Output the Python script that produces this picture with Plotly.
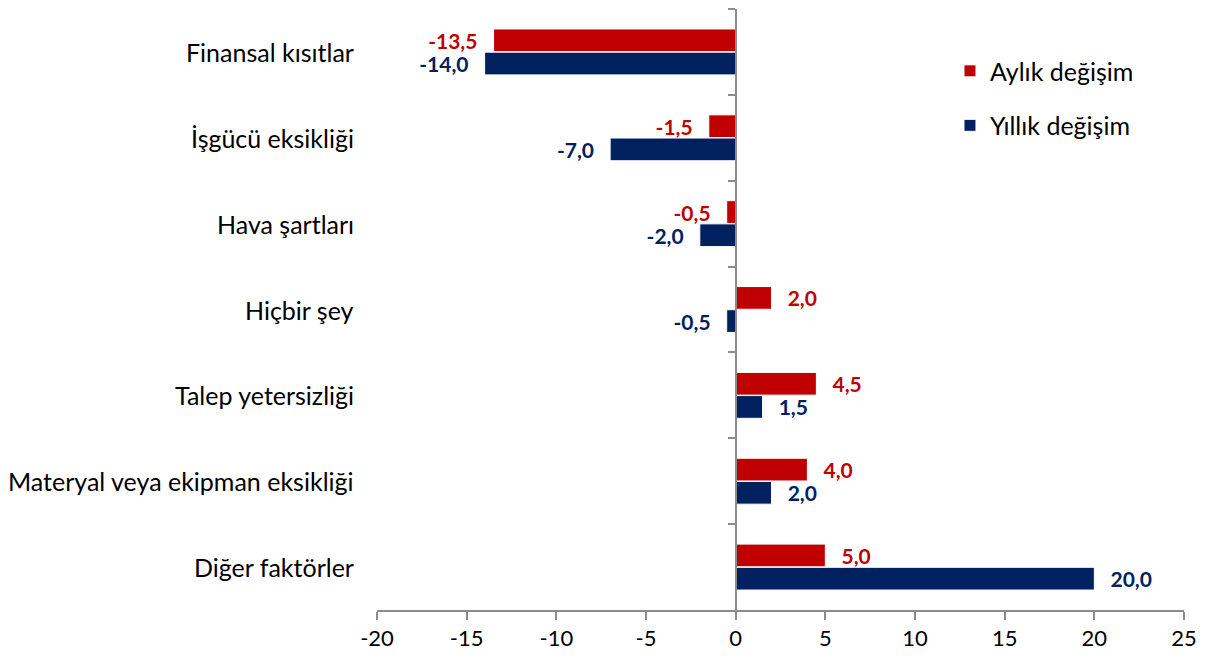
import plotly.graph_objects as go

categories = ["Finansal kısıtlar", "İşgücü eksikliği", "Hava şartları", "Hiçbir şey",
              "Talep yetersizliği", "Materyal veya ekipman eksikliği", "Diğer faktörler"]
aylik = [-13.5, -1.5, -0.5, 2.0, 4.5, 4.0, 5.0]
yillik = [-14.0, -7.0, -2.0, -0.5, 1.5, 2.0, 20.0]
x_ticks = [-20, -15, -10, -5, 0, 5, 10, 15, 20, 25]

RED = "#C00000"
NAVY = "#002060"
GRAY = "#8C8C8C"
FONT = "Lato"
PAD = "\u2002\u2009"


def labels(vals):
    out = []
    for v in vals:
        s = f"{v:.1f}".replace(".", ",")
        out.append(f"{s}{PAD}" if v < 0 else f"{PAD}{s}")
    return out


fig = go.Figure()
fig.add_trace(go.Bar(
    y=categories, x=aylik, orientation="h", name="Aylık değişim",
    marker=dict(color=RED, line=dict(color="white", width=1)),
    text=labels(aylik), textposition="outside", cliponaxis=False,
    constraintext="none",
    textfont=dict(family=FONT, size=21, color=RED, weight="bold"),
    legendgroup="a",
))
fig.add_trace(go.Bar(
    y=categories, x=yillik, orientation="h", name="Yıllık değişim",
    marker=dict(color=NAVY, line=dict(color="white", width=1)),
    text=labels(yillik), textposition="outside", cliponaxis=False,
    constraintext="none",
    textfont=dict(family=FONT, size=21, color=NAVY, weight="bold"),
    legendgroup="b",
))

# category labels at the left edge of the plot area
for c in categories:
    fig.add_annotation(x=0, xref="paper", y=c, yref="y", text=c,
                       xanchor="right", yanchor="middle", xshift=-21,
                       showarrow=False,
                       font=dict(family=FONT, size=25, color="black"))

zero_pos = (0 - x_ticks[0]) / (x_ticks[-1] - x_ticks[0])

# page has an 8px body margin; compensate so the plot lands where it should
fig.update_layout(
    width=1199, height=652,
    margin=dict(l=369, r=23, t=1, b=50),
    paper_bgcolor="white", plot_bgcolor="white",
    barmode="group", bargap=0.46, bargroupgap=0.02,
    font=dict(family=FONT, size=22, color="black"),
    showlegend=True,
    legend=dict(x=0.71, y=0.935, xanchor="left", yanchor="top",
                font=dict(family=FONT, size=25, color="black"),
                tracegroupgap=19, traceorder="grouped", itemwidth=30,
                bgcolor="rgba(0,0,0,0)"),
    xaxis=dict(range=[x_ticks[0], x_ticks[-1]], tickvals=x_ticks,
               ticktext=[str(t) for t in x_ticks],
               showgrid=False, zeroline=False, showline=True,
               linecolor=GRAY, linewidth=2, ticks="outside", ticklen=8,
               tickwidth=2, tickcolor=GRAY,
               tickfont=dict(family=FONT, size=22, color="black")),
    yaxis=dict(autorange="reversed", showgrid=False, zeroline=False,
               anchor="free", position=zero_pos,
               showline=True, linecolor=GRAY, linewidth=2,
               ticks="outside", tickson="boundaries", ticklen=7,
               tickwidth=2, tickcolor=GRAY, showticklabels=False),
)

fig.write_html("out.html")
